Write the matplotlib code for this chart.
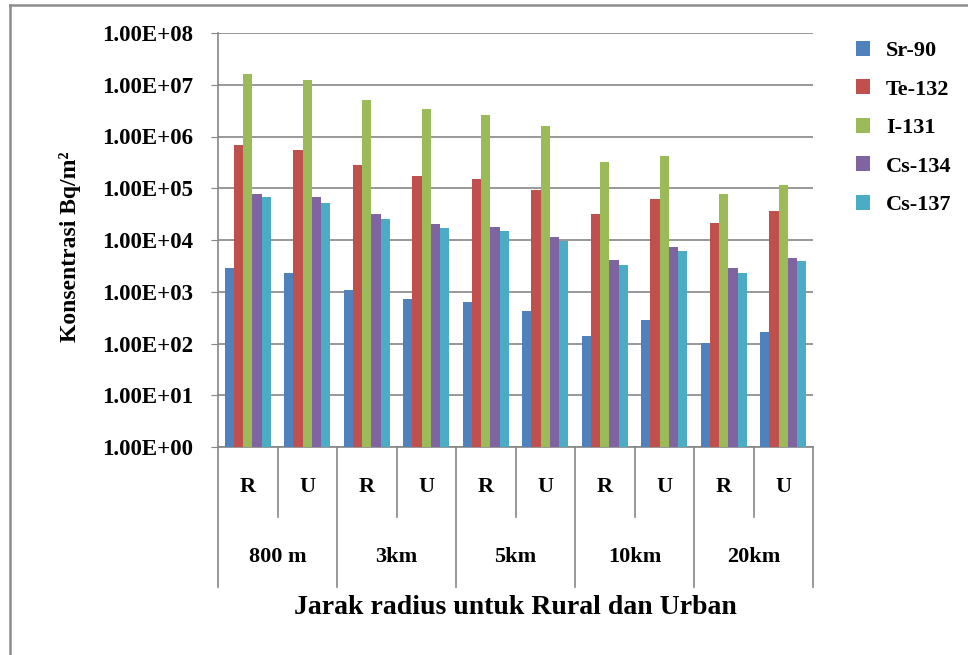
import numpy as np
import matplotlib
matplotlib.use('Agg')
import matplotlib.pyplot as plt
from matplotlib.ticker import FixedLocator, FuncFormatter, NullLocator
from matplotlib.lines import Line2D
import matplotlib.transforms as mtransforms

plt.rcParams['font.family'] = ['Liberation Serif', 'DejaVu Serif']
plt.rcParams['font.weight'] = 'bold'

# Data (Bq/m2)
groups = ['800 m', '3km', '5km', '10km', '20km']
subcats = ['R', 'U']
isotopes = ['Sr-90', 'Te-132', 'I-131', 'Cs-134', 'Cs-137']
colors = ['#4F81BD', '#C0504D', '#9BBB59', '#8064A2', '#4BACC6']

sr90 = [2.9e3, 2.3e3, 1.08e3, 7.2e2, 6.3e2, 4.25e2, 1.4e2, 2.85e2, 1.0e2, 1.67e2]
te132 = [6.85e5, 5.5e5, 2.8e5, 1.73e5, 1.51e5, 9.3e4, 3.2e4, 6.2e4, 2.13e4, 3.6e4]
i131 = [1.6e7, 1.24e7, 5.1e6, 3.4e6, 2.6e6, 1.6e6, 3.2e5, 4.2e5, 7.7e4, 1.16e5]
cs134 = [7.7e4, 6.8e4, 3.2e4, 2.04e4, 1.78e4, 1.14e4, 4.1e3, 7.3e3, 2.9e3, 4.5e3]
cs137 = [6.8e4, 5.2e4, 2.55e4, 1.7e4, 1.49e4, 9.6e3, 3.3e3, 6.1e3, 2.3e3, 3.9e3]
series = [sr90, te132, i131, cs134, cs137]

W, H = 968, 655
fig = plt.figure(figsize=(W / 100, H / 100), dpi=100)
ax = fig.add_axes([218 / W, 1 - 447 / H, (813 - 218) / W, (447 - 33) / H])

x = np.arange(len(sr90))
bw = 0.155
for i, (vals, c, name) in enumerate(zip(series, colors, isotopes)):
    ax.bar(x + (i - 2) * bw, vals, bw, bottom=1, color=c, label=name, zorder=3)

ax.set_yscale('log')
ax.set_ylim(1, 1e8)
ax.set_xlim(-0.5, len(x) - 0.5)
ax.yaxis.set_major_locator(FixedLocator([10.0 ** k for k in range(9)]))
ax.yaxis.set_minor_locator(NullLocator())
ax.yaxis.set_major_formatter(FuncFormatter(lambda v, p: '1.00E+%02d' % int(round(np.log10(v)))))
ax.set_xticks([])
ax.grid(axis='y', color='#868686', linewidth=1.2, zorder=0)
for s in ['top', 'right']:
    ax.spines[s].set_visible(False)
for s in ['left', 'bottom']:
    ax.spines[s].set_color('#868686')
    ax.spines[s].set_linewidth(1.2)
ax.tick_params(axis='y', length=5, color='#868686', labelsize=16.5, pad=13)
for lab in ax.get_yticklabels():
    lab.set_fontweight('bold')

# multi-level category axis
trans = mtransforms.blended_transform_factory(ax.transData, ax.transAxes)
h = 414.0
y1 = -(517 - 447) / h
y2 = -(587 - 447) / h
for k in range(len(groups)):
    xr = 2 * k + 0.5
    ax.add_line(Line2D([xr, xr], [0, y1], transform=trans, color='#868686', lw=1.2, clip_on=False))
for k in range(len(groups) + 1):
    xb = 2 * k - 0.5
    ax.add_line(Line2D([xb, xb], [0, y2], transform=trans, color='#868686', lw=1.2, clip_on=False))
for j in range(len(x)):
    ax.text(j, -(487 - 447) / h, subcats[j % 2], transform=trans, ha='center', va='center',
            fontsize=16, fontweight='bold')
for k, g in enumerate(groups):
    ax.text(2 * k + 0.5, -(557 - 447) / h, g, transform=trans, ha='center', va='center',
            fontsize=16, fontweight='bold')

fig.text(515 / W, 1 - 608 / H, 'Jarak radius untuk Rural dan Urban', ha='center', va='center',
         fontsize=20, fontweight='bold')
fig.text(70 / W, 1 - 247 / H, 'Konsentrasi Bq/m²', rotation=90, ha='center', va='center',
         fontsize=17, fontweight='bold')

leg = fig.legend(loc='upper left', bbox_to_anchor=(836 / W, 1 - 21 / H), frameon=False,
                 handlelength=0.65, handleheight=0.65, handletextpad=0.7,
                 labelspacing=0.82, prop={'weight': 'bold', 'size': 16})

# outer frame (top and left visible)
fig.add_artist(Line2D([10 / W, 1], [1 - 5 / H, 1 - 5 / H], transform=fig.transFigure,
                      color='#8c8c8c', lw=1.8))
fig.add_artist(Line2D([10 / W, 10 / W], [0, 1 - 5 / H], transform=fig.transFigure,
                      color='#8c8c8c', lw=1.8))

fig.savefig('out.png', dpi=100)
